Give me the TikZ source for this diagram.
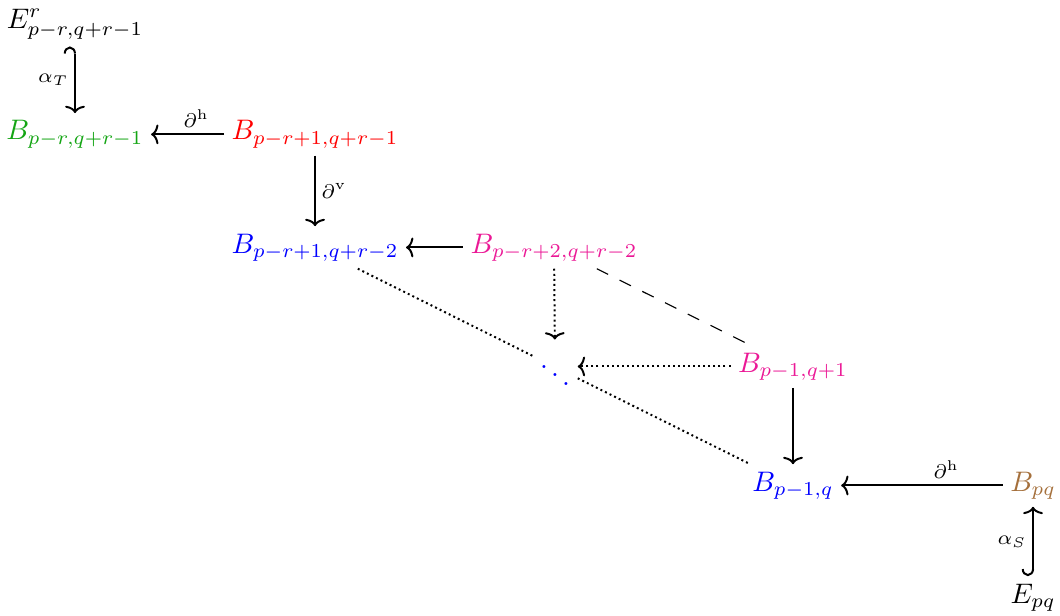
\documentclass[tikz,border=0pt]{standalone}
\usepackage{tikz}
\usetikzlibrary{arrows.meta, positioning, calc}
\usepackage{xcolor}
\definecolor{cellgreen}{RGB}{20,165,20}
\definecolor{cellpink}{RGB}{235,25,150}
\definecolor{cellbrown}{RGB}{165,112,60}

\begin{document}
\begin{tikzpicture}[
  obj/.style={anchor=base, inner sep=2.5pt},
  lbl/.style={font=\scriptsize, inner sep=2pt},
  arrow/.style={-{To[length=2.6pt, width=7pt]}, line width=0.7pt},
  hookarrow/.style={{Hooks[#1, width=8pt, length=2.5pt]}-{To[length=2.6pt, width=7pt]}, line width=0.7pt},
  dotarrow/.style={-{To[length=2.6pt, width=7pt]}, line width=0.7pt, dash pattern=on 0.7pt off 1.1pt},
  dotline/.style={line width=0.7pt, dash pattern=on 0.7pt off 1.1pt},
  dashline/.style={dash pattern=on 4.5pt off 4.5pt},
]
\useasboundingbox (0,0) rectangle (13.2,-7.67);

% Top corner
\node[obj] (et) at (0.934,-0.349) {$E^r_{p-r,q+r-1}$};
\node[obj, text=cellgreen] (bg) at (0.934,-1.743) {$B_{p-r,q+r-1}$};
\node[obj, text=red] (br) at (3.923,-1.743) {$B_{p-r+1,q+r-1}$};

% Staircase
\node[obj, text=blue] (bb1) at (3.923,-3.151) {$B_{p-r+1,q+r-2}$};
\node[obj, text=cellpink] (bp1) at (6.899,-3.151) {$B_{p-r+2,q+r-2}$};
\node[text=blue, inner sep=2pt] (dots) at (6.912,-4.57) {$\ddots$};
\node[obj, text=cellpink] (bp2) at (9.875,-4.633) {$B_{p-1,q+1}$};
\node[obj, text=blue] (bb2) at (9.875,-6.115) {$B_{p-1,q}$};

% Bottom corner
\node[obj, text=cellbrown] (bw) at (12.864,-6.115) {$B_{pq}$};
\node[obj] (es) at (12.864,-7.509) {$E_{pq}$};

% Solid arrows
\draw[hookarrow=left] (et) -- node[lbl, left] {$\alpha_T$} (bg);
\draw[arrow] (br) -- node[lbl, above, pos=0.38] {$\partial^{\mathrm{h}}$} (bg);
\draw[arrow] (br) -- node[lbl, right] {$\partial^{\mathrm{v}}$} (bb1);
\draw[arrow] (bp1) -- (bb1);
\draw[arrow] (bp2) -- (bb2);
\draw[arrow] (bw) -- node[lbl, above, pos=0.35] {$\partial^{\mathrm{h}}$} (bb2);
\draw[hookarrow=right] (es) -- node[lbl, left] {$\alpha_S$} (bw);

% Dotted and dashed links
\draw[dotarrow] (bp1) -- (dots);
\draw[dotarrow] (bp2.west) -- (dots.east |- bp2.west);
\draw[dotline] (bb1) -- (dots);
\draw[dotline] (dots) -- (bb2);
\draw[dashline] (bp1) -- (bp2);
\end{tikzpicture}
\end{document}
